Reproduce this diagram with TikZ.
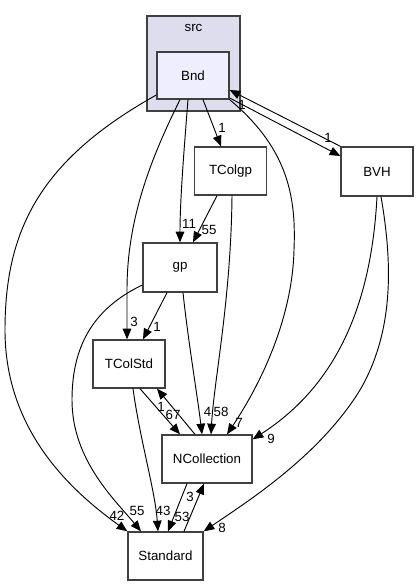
\documentclass[tikz,border=0pt]{standalone}
\usepackage{fontspec}
\setmainfont{Liberation Sans}
\usetikzlibrary{arrows.meta,calc}
\definecolor{boxgray}{HTML}{404040}
\definecolor{clusterfill}{HTML}{DDDDEE}
\definecolor{bndfill}{HTML}{EEEEFF}
\begin{document}
\begin{tikzpicture}[x=0.75pt,y=-0.75pt,
  box/.style={draw=boxgray,line width=1pt,fill=white,inner sep=0pt,font=\fontsize{10}{12}\selectfont},
  dep/.style={draw=black,line width=0.7pt,-{Triangle[length=8pt,width=6.5pt]}},
  lbl/.style={font=\fontsize{10}{12}\selectfont,inner sep=0pt}]
\useasboundingbox (0,0) rectangle (419,585);
% cluster
\draw[draw=boxgray,line width=1pt,fill=clusterfill] (147,16) rectangle (240,111);
\node[lbl] (src) at (193.5,28) {src};
% nodes
\node[box,fill=bndfill,minimum width=54pt,minimum height=35.25pt] (Bnd) at (193,75.5) {Bnd};
\node[box,minimum width=54pt,minimum height=36pt] (TColgp) at (230.5,171) {TColgp};
\node[box,minimum width=54pt,minimum height=36.75pt] (BVH) at (377,171.5) {BVH};
\node[box,minimum width=55.5pt,minimum height=36.75pt] (gp) at (180,267.5) {gp};
\node[box,minimum width=54pt,minimum height=36pt] (TColStd) at (129,364) {TColStd};
\node[box,minimum width=67.5pt,minimum height=36pt] (NCollection) at (207,459) {NCollection};
\node[box,minimum width=56.25pt,minimum height=36pt] (Standard) at (165.5,556) {Standard};
% edges
\draw[dep] ($(Bnd.west)+(0,19.5)$) .. controls (40,160) and (5,230) .. (5,330)
   .. controls (5,430) and (70,490) .. (Standard.north west);
\draw[dep] ($(Bnd.south)+(-13,0)$) .. controls (150,160) and (127,220) .. (127,290) -- ($(TColStd.north)+(-2,0)$);
\draw[dep] ($(Bnd.south)+(-5,0)$) .. controls (184,150) and (180,200) .. (gp.north);
\draw[dep] ($(Bnd.south)+(10,0)$) -- ($(TColgp.north)+(-9.5,0)$);
\draw[dep] ($(TColgp.south)+(-13.5,0)$) -- ($(gp.north)+(13,0)$);
\draw[dep] ($(TColgp.south)+(1.5,0)$) .. controls (231,300) and (214,380) .. ($(NCollection.north)+(4,0)$);
\draw[dep] ($(gp.south)+(3,0)$) .. controls (188,340) and (198,400) .. ($(NCollection.north)+(-5,0)$);
\draw[dep] ($(gp.south)+(-13,0)$) -- ($(TColStd.north)+(14,0)$);
\draw[dep] ($(gp.west)+(0,17.5)$) .. controls (90,310) and (72,350) .. (72,400)
   .. controls (72,460) and (115,500) .. ($(Standard.north)+(-24.5,0)$);
\draw[dep] ($(TColStd.south)+(4,0)$) .. controls (140,440) and (155,490) .. ($(Standard.north)+(-7.5,0)$);
\draw[dep] ($(TColStd.south)+(11,0)$) -- ($(NCollection.north)+(-27,0)$);
\draw[dep] ($(NCollection.north)+(-12,0)$) -- ($(TColStd.south)+(28,0)$);
\draw[dep] ($(NCollection.south)+(-20,0)$) -- ($(Standard.north)+(2.5,0)$);
\draw[dep] ($(Standard.north)+(18.5,0)$) -- ($(NCollection.south)+(-3,0)$);
\draw[dep] (Bnd.south east) .. controls (290,150) and (296,200) .. (294,250)
   .. controls (292,330) and (250,400) .. ($(NCollection.north)+(20,0)$);
\draw[dep] (BVH.south) .. controls (372,290) and (345,380) .. ($(NCollection.north east)+(0,5)$);
\draw[dep] ($(BVH.south)+(4,0)$) .. controls (392,260) and (395,330) .. (360,390)
   .. controls (320,455) and (250,500) .. (Standard.north east);
\draw[dep] ($(Bnd.east)+(0,22.5)$) -- ($(BVH.west)+(0,-15.5)$);
\draw[dep] (BVH.north west) -- ($(Bnd.east)+(0,14.5)$);
% labels
\node[lbl] (l42) at (117,516) {42};
\node[lbl] (l3a) at (134,322) {3};
\node[lbl] (l11) at (189,224) {11};
\node[lbl] (l1a) at (222,128) {1};
\node[lbl] (l55a) at (209,230) {55};
\node[lbl] (l58) at (221,412) {58};
\node[lbl] (l4) at (207.5,412) {4};
\node[lbl] (l1b) at (157,327) {1};
\node[lbl] (l55b) at (137,511) {55};
\node[lbl] (l43) at (163,511) {43};
\node[lbl] (l67) at (173,415) {67};
\node[lbl] (l1c) at (161,407) {1};
\node[lbl] (l53) at (182,517) {53};
\node[lbl] (l3b) at (190,497) {3};
\node[lbl] (l7) at (239,423) {7};
\node[lbl] (l9) at (271,439) {9};
\node[lbl] (l8) at (222,528) {8};
\node[lbl] (l1d) at (328,138) {1};
\node[lbl] (l1e) at (242,105) {1};
\end{tikzpicture}
\end{document}
